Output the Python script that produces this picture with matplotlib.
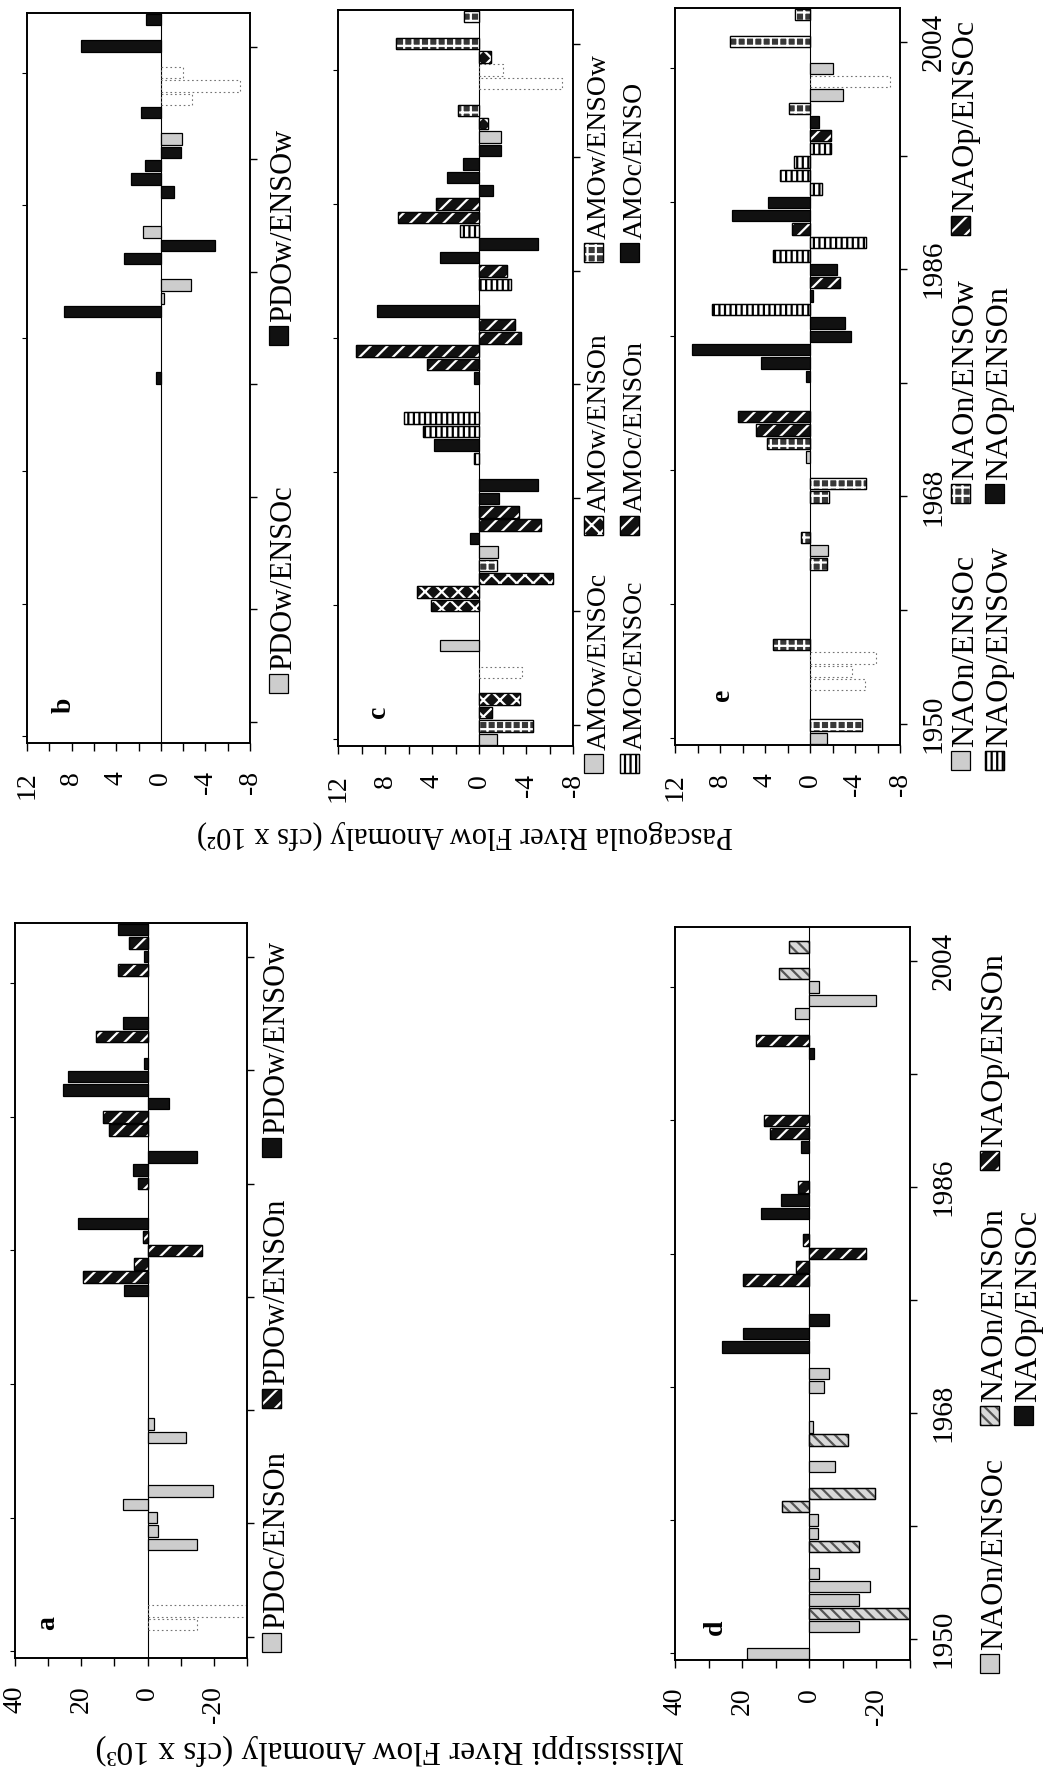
import numpy as np
import matplotlib.pyplot as plt
from matplotlib.patches import Rectangle

plt.rcParams['font.family'] = ['Liberation Serif', 'DejaVu Serif']
plt.rcParams['hatch.linewidth'] = 1.6
plt.rcParams['axes.linewidth'] = 1.2

W, H = 1044, 1775

# ---- Pascagoula River flow anomaly (cfs x 10^2) ----
# panel b : PDO / ENSO      (cat -1 = bar barely printed in the scan)
b_cats = ['PDOw/ENSOc', 'PDOw/ENSOw']
b_year = [2004, 2002, 2000, 1999, 1998, 1997, 1995, 1994, 1993, 1992, 1991,
          1988, 1987, 1986, 1984, 1983, 1982, 1977]
b_val = [1.3, 7.2, -2.0, -7.1, -2.8, 1.8, -1.9, -1.8, 1.4, 2.7, -1.2,
         1.6, -4.9, 3.3, -2.7, -0.3, 8.7, 0.4]
b_cat = [1, 1, -1, -1, -1, 1, 0, 1, 1, 1, 1, 0, 1, 1, 0, 0, 1, 1]

# panel c : AMO / ENSO
c_cats = ['AMOw/ENSOc', 'AMOw/ENSOn', 'AMOw/ENSOw',
          'AMOc/ENSOc', 'AMOc/ENSOn', 'AMOc/ENSO']
c_year = [2004, 2002, 2001, 2000, 1999, 1997, 1996, 1995, 1994, 1993, 1992,
          1991, 1990, 1989, 1988, 1987, 1986, 1985, 1984, 1982, 1981, 1980,
          1979, 1978, 1977, 1974, 1973, 1972, 1971, 1969, 1968, 1967, 1966,
          1965, 1964, 1963, 1962, 1961, 1960, 1957, 1955, 1953, 1952, 1951,
          1950]
c_val = [1.3, 7.1, -1.0, -2.0, -7.1, 1.8, -0.8, -1.9, -1.9, 1.4, 2.7,
         -1.2, 3.7, 6.9, 1.6, -5.0, 3.3, -2.4, -2.7, 8.7, -3.1, -3.6,
         10.5, 4.4, 0.4, 6.4, 4.8, 3.8, 0.4, -5.0, -1.7, -3.4, -5.3,
         0.8, -1.6, -1.5, -6.3, 5.3, 4.1, 3.3, -3.7, -3.5, -1.1, -4.6,
         -1.5]
c_cat = [2, 2, 1, -1, -1, 2, 1, 0, 5, 5, 5,
         5, 4, 4, 3, 5, 5, 4, 3, 5, 4, 4,
         4, 4, 5, 3, 3, 5, 3, 5, 5, 4, 4,
         5, 0, 2, 1, 1, 1, 0, -1, 1, 1, 2,
         0]

# panel e : NAO / ENSO
e_cats = ['NAOn/ENSOc', 'NAOn/ENSOw', 'NAOp/ENSOc', 'NAOp/ENSOw', 'NAOp/ENSOn']
e_year = [2004, 2002, 2000, 1999, 1998, 1997, 1996, 1995, 1994, 1993, 1992,
          1991, 1990, 1989, 1988, 1987, 1986, 1985, 1984, 1983, 1982, 1981,
          1980, 1979, 1978, 1977, 1974, 1973, 1972, 1971, 1969, 1968, 1965,
          1964, 1963, 1957, 1956, 1955, 1954, 1951, 1950]
e_val = [1.3, 7.1, -2.0, -7.1, -2.9, 1.9, -0.8, -1.9, -1.9, 1.4, 2.7,
         -1.1, 3.7, 6.9, 1.6, -5.0, 3.3, -2.4, -2.7, -0.3, 8.7, -3.1,
         -3.6, 10.5, 4.4, 0.4, 6.4, 4.8, 3.8, 0.4, -5.0, -1.7, 0.8,
         -1.6, -1.5, 3.3, -5.9, -3.7, -4.9, -4.6, -1.5]
e_cat = [1, 1, 0, -1, 0, 1, 4, 2, 3, 3, 3,
         3, 4, 4, 2, 3, 3, 4, 2, 4, 3, 4,
         4, 4, 4, 4, 2, 2, 1, 0, 1, 1, 1,
         0, 1, 1, -1, -1, -1, 1, 0]

# ---- Mississippi River flow anomaly (cfs x 10^3) ----
# panel a : PDO / ENSO
a_cats = ['PDOc/ENSOn', 'PDOw/ENSOn', 'PDOw/ENSOw']
a_year = [2004, 2003, 2002, 2001, 1997, 1996, 1994, 1993, 1992, 1991, 1990,
          1989, 1987, 1986, 1985, 1982, 1981, 1980, 1979, 1978, 1977, 1967,
          1966, 1962, 1961, 1960, 1959, 1958, 1953, 1952]
a_val = [9.0, 5.5, 1.0, 9.0, 7.5, 15.5, 1.2, 24.0, 25.5, -6.5, 13.3,
         11.5, -15.0, 4.5, 3.0, 21.0, 1.5, -16.5, 4.0, 19.5, 7.0, -1.8,
         -11.7, -19.7, 7.5, -2.8, -3.1, -14.8, -30.0, -14.8]
a_cat = [2, 1, 2, 1, 2, 1, 2, 2, 2, 2, 1,
         1, 2, 2, 1, 2, 1, 1, 1, 1, 2, 0,
         0, 0, 0, 0, 0, 0, -1, -1]

# panel d : NAO / ENSO
d_cats = ['NAOn/ENSOc', 'NAOn/ENSOn', 'NAOp/ENSOn', 'NAOp/ENSOc']
d_year = [2003, 2001, 2000, 1999, 1998, 1996, 1995, 1990, 1989, 1988, 1985,
          1984, 1983, 1981, 1980, 1979, 1978, 1975, 1974, 1973, 1971, 1970,
          1967, 1966, 1964, 1962, 1961, 1960, 1959, 1958, 1956, 1955, 1954,
          1953, 1952, 1950]
d_val = [6.0, 9.0, -3.0, -20.0, 4.2, 15.8, -1.5, 13.6, 11.8, 2.4, 3.3,
         8.3, 14.5, 1.8, -17.0, 4.0, 19.7, -6.0, 19.7, 26.0, -5.8, -4.5,
         -1.2, -11.5, -7.6, -19.7, 8.2, -2.7, -2.7, -14.8, -3.0, -18.0, -14.7,
         -31.0, -14.8, 18.5]
d_cat = [1, 1, 0, 0, 0, 2, 3, 2, 2, 3, 2,
         3, 3, 2, 2, 2, 2, 3, 3, 3, 0, 0,
         0, 1, 0, 1, 1, 0, 0, 1, 0, 0, 0,
         1, 0, 0]

# fill styles: face colour, hatch, hatch colour
STY = {
    'gray':   ('#cdcdcd', None, None),
    'black':  ('#111111', None, None),
    'diag':   ('#111111', '//', 'white'),
    'ldiag':  ('#d9d9d9', '\\\\\\', '#555555'),
    'check':  ('#383838', '++', 'white'),
    'stripe': ('white', '|||', 'black'),
    'cross':  ('#111111', 'xx', 'white'),
}


def layers(sty):
    if sty == 'faint':
        return [dict(facecolor='none', edgecolor='0.45', linewidth=0.8,
                     linestyle=(0, (1.5, 2.5)))]
    face, hatch, hc = STY[sty]
    out = [dict(facecolor=face, edgecolor='black', linewidth=0.9)]
    if hatch:
        out.append(dict(facecolor='none', edgecolor=hc, linewidth=0, hatch=hatch))
        out.append(dict(facecolor='none', edgecolor='black', linewidth=0.9))
    return out


fig = plt.figure(figsize=(W / 100, H / 100), dpi=100)


def panel(box, years, vals, cats, styles, xlim, major, minor, show_years):
    x0, y0, x1, y1 = box
    ax = fig.add_axes([x0 / W, 1 - y1 / H, (x1 - x0) / W, (y1 - y0) / H])
    ax.set_xlim(*xlim)
    ax.set_ylim(1949.5, 2004.5)
    ax.axvline(0, color='black', lw=0.8, zorder=0.5)
    for k in sorted(set(cats)):
        ys = [y for y, c in zip(years, cats) if c == k]
        vs = [v for v, c in zip(vals, cats) if c == k]
        for lay in layers('faint' if k < 0 else styles[k]):
            ax.barh(ys, vs, height=0.86, **lay)
    ax.set_xticks(major)
    ax.set_xticklabels([f'{m:g}' for m in major])
    ax.set_xticks(minor, minor=True)
    ax.tick_params(axis='x', which='both', direction='out', length=6, width=1,
                   pad=14, labelsize=20, labelrotation=90)
    ax.tick_params(axis='y', left=False, labelleft=False)
    tw = ax.twinx()
    tw.set_ylim(1948.3, 2006.7)
    ticks = np.arange(1950, 2005, 9)
    tw.set_yticks(ticks)
    tw.set_yticklabels([str(t) if show_years and (t - 1950) % 18 == 0 else ''
                        for t in ticks])
    tw.tick_params(axis='y', direction='out', length=5, width=1, pad=10,
                   labelsize=21, labelrotation=90)
    for lb in tw.get_yticklabels():
        lb.set_va('center')
    return ax


def key(xc, ybot, sty, label, fs):
    s = 19
    for lay in layers(sty):
        fig.add_artist(Rectangle(((xc - 6 - s / 2) / W, 1 - ybot / H), s / W, s / H,
                                 transform=fig.transFigure, **lay))
    fig.text(xc / W, 1 - (ybot - s - 4) / H, label, rotation=90, ha='center',
             va='bottom', fontsize=fs)


def letter(x, y, t):
    fig.text(x / W, 1 - y / H, t, rotation=90, ha='center', va='center',
             fontsize=20, fontweight='bold')


pas = dict(xlim=(12, -8), major=[12, 8, 4, 0, -4, -8], minor=[10, 6, 2, -2, -6])
mis = dict(xlim=(40, -30), major=[40, 20, 0, -20], minor=[30, 10, -10, -30])

b_sty = ['gray', 'black']
c_sty = ['gray', 'cross', 'check', 'stripe', 'diag', 'black']
e_sty = ['gray', 'check', 'diag', 'stripe', 'black']
a_sty = ['gray', 'diag', 'black']
d_sty = ['gray', 'ldiag', 'diag', 'black']

panel((27, 13, 250, 743), b_year, b_val, b_cat, b_sty, show_years=False, **pas)
panel((338, 10, 573, 746), c_year, c_val, c_cat, c_sty, show_years=False, **pas)
panel((675, 8, 900, 745), e_year, e_val, e_cat, e_sty, show_years=True, **pas)
panel((15, 923, 247, 1658), a_year, a_val, a_cat, a_sty, show_years=False, **mis)
panel((675, 927, 910, 1660), d_year, d_val, d_cat, d_sty, show_years=True, **mis)

letter(64, 705, 'b')
letter(378, 712, 'c')
letter(722, 695, 'e')
letter(48, 1623, 'a')
letter(715, 1627, 'd')

# legends (rotated keys beside each panel)
for yb, i in zip([693, 345], [0, 1]):
    key(284, yb, b_sty[i], b_cats[i], 22)
for yb, i in zip([773, 535, 262], [0, 1, 2]):
    key(599, yb, c_sty[i], c_cats[i], 20)
for yb, i in zip([773, 535, 262], [3, 4, 5]):
    key(635, yb, c_sty[i], c_cats[i], 20)
for yb, i in zip([770, 503, 235], [0, 1, 2]):
    key(966, yb, e_sty[i], e_cats[i], 23)
for yb, i in zip([770, 503], [3, 4]):
    key(1000, yb, e_sty[i], e_cats[i], 23)
for yb, i in zip([1652, 1408, 1157], [0, 1, 2]):
    key(277, yb, a_sty[i], a_cats[i], 22)
for yb, i in zip([1673, 1425, 1170], [0, 1, 2]):
    key(995, yb, d_sty[i], d_cats[i], 23)
key(1029, 1425, d_sty[3], d_cats[3], 23)

fig.text(465 / W, 1 - 835 / H, 'Pascagoula River Flow Anomaly (cfs x 10²)',
         rotation=180, ha='center', va='center', fontsize=22)
fig.text(390 / W, 1 - 1750 / H, 'Mississippi River Flow Anomaly (cfs x 10³)',
         rotation=180, ha='center', va='center', fontsize=24)

fig.savefig('out.png', dpi=100)
